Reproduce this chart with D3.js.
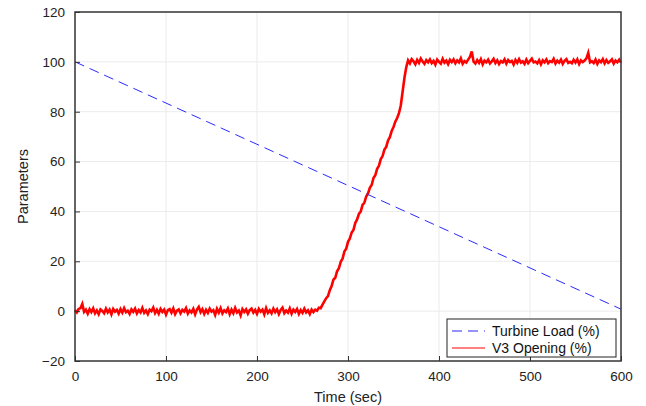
<!DOCTYPE html>
<html>
<head>
<meta charset="utf-8">
<script src="https://cdn.jsdelivr.net/npm/d3@7"></script>
<style>
  body { margin: 0; background: #fff; }
  svg { display: block; font-family: "Liberation Sans", Arial, sans-serif; }
</style>
</head>
<body>
<svg id="chart" width="646" height="406"></svg>
<script>
// time axis and y axis ticks
var xTicks = [0, 100, 200, 300, 400, 500, 600]
var yTicks = [-20, 0, 20, 40, 60, 80, 100, 120]

// turbine load (%) - straight ramp down
var loadTime = [0, 600]
var loadValues = [100, 0.8]

// V3 opening (%) sampled every 2 sec from t = 0 to 600
var sampleStep = 2
var v3Values = [
    // t = 0 .. 262, closed
    0.4, -0.5, 0.9, 1.2, 2.9, -0.3, 0.6, -1.0, 0.8, -0.4, 1.1, -0.9,
    0.3, -1.2, 0.7, 0.1, -0.8, 1.0, -0.5, 0.6, -1.3, 0.9, -0.2, 0.5,
    -1.0, 0.8, -0.6, 1.2, -0.4, 0.2, -1.1, 0.7, -0.3, 1.0, -0.9, 0.4,
    -0.5, 1.3, -0.7, 0.3, -1.2, 0.6, 0.0, 1.4, -0.8, 0.5, -1.0, 0.9,
    -0.3, 0.6, -1.4, 0.4, 0.8, -0.6, 1.1, -1.2, 0.2, 0.7, -0.9, 0.5,
    -0.2, 1.2, -1.0, 0.3, -0.5, 0.9, -1.3, 0.6, 1.7, -0.4, 0.8, -1.1,
    0.5, -0.7, 1.0, -0.2, 0.4, -1.5, 0.9, -0.6, 1.2, -0.9, 0.3, -0.4,
    1.1, -1.2, 0.6, -0.8, 1.3, -0.5, 0.2, -1.7, 0.8, -0.3, 0.7, -1.0,
    0.4, 1.0, -0.6, 0.5, -1.1, 0.9, -0.2, 0.6, -1.3, 1.2, -0.7, 0.3,
    -0.9, 1.0, -0.4, 0.7, -1.2, 0.5, 1.4, -0.8, 0.2, -0.6, 1.1, -1.0,
    0.6, -0.3, 0.9, -1.1, 0.4, -0.7, 1.0, -0.5, 0.3, -1.2, 0.6, -0.4,
    // t = 264 .. 366, opening
    0.6, 0.2, 1.4, 1.2, 2.6, 3.9, 5.2, 6.0, 8.4, 10.1, 12.6, 13.4,
    16.0, 17.2, 19.8, 21.0, 23.9, 25.0, 27.8, 29.1, 31.5, 32.6, 35.4, 36.8,
    39.0, 40.0, 42.6, 43.5, 46.0, 47.2, 49.5, 50.6, 53.4, 54.5, 57.1, 58.3,
    61.0, 62.2, 64.8, 65.9, 68.5, 69.8, 72.3, 73.9, 76.0, 77.5, 79.4, 82.5,
    88.0, 93.5, 97.8, 100.6,
    // t = 368 .. 600, fully open
    99.4, 101.1, 100.2, 99.0, 100.8, 99.6, 101.3, 100.1, 99.2, 100.7, 99.8, 101.0,
    99.5, 100.4, 98.9, 100.9, 100.0, 99.3, 101.2, 99.7, 100.5, 99.1, 100.8, 99.9,
    101.0, 99.4, 100.6, 99.8, 101.4, 99.2, 100.3, 99.7, 100.9, 102.0, 104.2, 100.1,
    99.3, 100.7, 99.6, 101.1, 99.0, 100.5, 99.8, 100.9, 99.4, 100.2, 101.2, 99.5,
    100.6, 99.1, 100.3, 99.8, 101.0, 99.3, 100.7, 99.9, 100.4, 98.9, 100.8, 99.6,
    101.1, 99.7, 100.2, 99.2, 100.9, 99.5, 100.4, 101.3, 99.8, 100.1, 99.4, 100.7,
    99.0, 100.6, 99.8, 101.0, 99.5, 100.3, 99.9, 101.2, 99.3, 100.5, 99.7, 100.9,
    99.2, 100.4, 101.1, 99.6, 100.0, 99.4, 100.8, 99.7, 101.0, 99.1, 100.6, 99.9,
    100.5, 101.4, 103.6, 99.8, 100.3, 99.5, 100.9, 99.2, 100.6, 99.9, 101.1, 99.4,
    100.7, 99.6, 100.2, 101.0, 99.3, 100.5, 99.8, 100.9, 99.7
]

var seriesNames = ["Turbine Load (%)", "V3 Opening (%)"]
var seriesColors = ["#2a2aff", "#ff0000"]

var margin = { top: 12, right: 25, bottom: 45, left: 75 }
var width = 646
var height = 406
var chartWidth = width - margin.left - margin.right
var chartHeight = height - margin.top - margin.bottom

var svg = d3.select("#chart")
var g = svg.append("g")
    .attr("transform", `translate(${margin.left}, ${margin.top})`)

var xScale = d3.scaleLinear().domain([0, 600]).range([0, chartWidth])
var yScale = d3.scaleLinear().domain([-20, 120]).range([chartHeight, 0])

// grid
g.append("g").selectAll("line")
    .data(xTicks.slice(1, -1))
    .enter().append("line")
    .attr("x1", d => xScale(d)).attr("x2", d => xScale(d))
    .attr("y1", 0).attr("y2", chartHeight)
    .attr("stroke", "#ebebeb").attr("stroke-width", 1)
g.append("g").selectAll("line")
    .data(yTicks.slice(1, -1))
    .enter().append("line")
    .attr("x1", 0).attr("x2", chartWidth)
    .attr("y1", d => yScale(d)).attr("y2", d => yScale(d))
    .attr("stroke", "#ebebeb").attr("stroke-width", 1)

// lines
var loadData = loadTime.map((t, i) => ({ t: t, v: loadValues[i] }))
var v3Data = v3Values.map((v, i) => ({ t: i * sampleStep, v: v }))

var line = d3.line().x(d => xScale(d.t)).y(d => yScale(d.v))

g.append("path").datum(v3Data)
    .attr("d", line)
    .attr("fill", "none")
    .attr("stroke", seriesColors[1])
    .attr("stroke-width", 2.6)
    .attr("stroke-linejoin", "miter")

g.append("path").datum(loadData)
    .attr("d", line)
    .attr("fill", "none")
    .attr("stroke", seriesColors[0])
    .attr("stroke-width", 1)
    .attr("stroke-dasharray", "10,6")

// axes
var xAxis = d3.axisBottom(xScale).tickValues(xTicks).tickSize(-5).tickPadding(10)
var yAxis = d3.axisLeft(yScale).tickValues(yTicks).tickSize(-5).tickPadding(10)

var gx = g.append("g").attr("transform", `translate(0,${chartHeight})`).call(xAxis)
var gy = g.append("g").call(yAxis)

;[gx, gy].forEach(a => {
    a.select(".domain").remove()
    a.selectAll(".tick line").attr("stroke", "#333").attr("stroke-width", 1)
    a.selectAll(".tick text")
        .attr("fill", "#222")
        .style("font-size", "13.5px")
        .style("font-family", "Liberation Sans, Arial, sans-serif")
})

// box
g.append("rect")
    .attr("x", 0).attr("y", 0)
    .attr("width", chartWidth).attr("height", chartHeight)
    .attr("fill", "none").attr("stroke", "#333").attr("stroke-width", 1.5)

// axis labels
svg.append("text")
    .attr("x", margin.left + chartWidth / 2)
    .attr("y", 402)
    .attr("text-anchor", "middle")
    .attr("fill", "#222")
    .style("font-size", "14.5px")
    .text("Time (sec)")

svg.append("text")
    .attr("transform", `translate(28, ${margin.top + chartHeight / 2}) rotate(-90)`)
    .attr("text-anchor", "middle")
    .attr("fill", "#222")
    .style("font-size", "14.5px")
    .text("Parameters")

// legend
var legend = svg.append("g").attr("transform", "translate(447, 319)")
legend.append("rect")
    .attr("width", 169).attr("height", 38)
    .attr("fill", "#fff").attr("stroke", "#222").attr("stroke-width", 1)

seriesNames.forEach((name, i) => {
    var yy = 12 + i * 17
    legend.append("line")
        .attr("x1", 5).attr("x2", 38)
        .attr("y1", yy).attr("y2", yy)
        .attr("stroke", seriesColors[i])
        .attr("stroke-width", 1)
        .attr("stroke-dasharray", i == 0 ? "10,6" : null)
    legend.append("text")
        .attr("x", 45).attr("y", yy + 5)
        .attr("fill", "#111")
        .style("font-size", "14px")
        .text(name)
})
</script>
</body>
</html>
